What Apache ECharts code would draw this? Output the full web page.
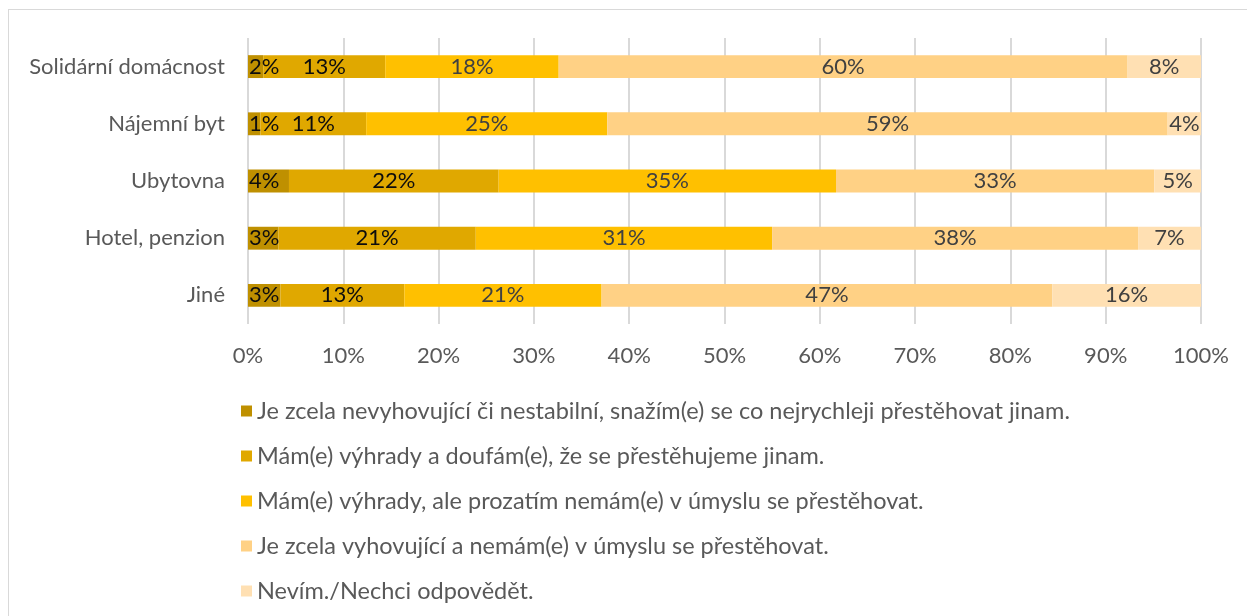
<!DOCTYPE html>
<html>
<head>
<meta charset="utf-8">
<script src="https://cdn.jsdelivr.net/npm/echarts@6/dist/echarts.min.js"></script>
<style>
  html, body { margin: 0; padding: 0; background: #fff; overflow: hidden; }
  #frame { position: absolute; left: 8px; top: 9px; width: 1260px; height: 640px; border: 1px solid #d9d9d9; box-sizing: border-box; }
  #chart { position: absolute; left: 0; top: 0; width: 1247px; height: 616px; }
</style>
</head>
<body>
<div id="frame"></div>
<div id="chart"></div>
<script>
const categories = ['Solidární domácnost', 'Nájemní byt', 'Ubytovna', 'Hotel, penzion', 'Jiné']
const seriesNames = [
  'Je zcela nevyhovující či nestabilní, snažím(e) se co nejrychleji přestěhovat jinam.',
  'Mám(e) výhrady a doufám(e), že se přestěhujeme jinam.',
  'Mám(e) výhrady, ale prozatím nemám(e) v úmyslu se přestěhovat.',
  'Je zcela vyhovující a nemám(e) v úmyslu se přestěhovat.',
  'Nevím./Nechci odpovědět.'
]
// percentages per category, same order as categories
const nestabilni = [1.6, 1.3, 4.3, 3.2, 3.4]
const vyhradyJinam = [12.8, 11.1, 22.0, 20.7, 13.0]
const vyhradyZustat = [18.2, 25.3, 35.4, 31.1, 20.7]
const vyhovujici = [59.7, 58.8, 33.4, 38.4, 47.3]
const nevim = [7.7, 3.5, 4.9, 6.6, 15.6]
const xTicks = [0, 10, 20, 30, 40, 50, 60, 70, 80, 90, 100]

const colors = ['#bf9000', '#e0a800', '#ffc000', '#ffd185', '#ffe0b3']
const labelColors = ['#0d0d0d', '#0d0d0d', '#404040', '#404040', '#404040']
const values = [nestabilni, vyhradyJinam, vyhradyZustat, vyhovujici, nevim]
const FONT = 'Lato, "Open Sans", sans-serif'

const chart = echarts.init(document.getElementById('chart'))

chart.setOption({
  animation: false,
  textStyle: { fontFamily: FONT },
  grid: { left: 248, right: 46, top: 38, bottom: 292 },
  xAxis: {
    type: 'value',
    min: xTicks[0],
    max: xTicks[xTicks.length - 1],
    interval: 10,
    axisLine: { show: false },
    axisTick: { show: false },
    splitLine: { lineStyle: { color: '#d9d9d9', width: 2 } },
    axisLabel: { color: '#595959', fontSize: 22, margin: 21, formatter: v => v + '%' }
  },
  yAxis: {
    type: 'category',
    data: categories,
    inverse: true,
    axisLine: { show: false },
    axisTick: { show: false },
    axisLabel: { color: '#595959', fontSize: 22, margin: 23 }
  },
  legend: {
    orient: 'vertical',
    left: 236,
    top: 394,
    itemWidth: 11,
    itemHeight: 11,
    itemGap: 21,
    icon: 'rect',
    textStyle: { color: '#595959', fontSize: 23.5, lineHeight: 24 },
    data: seriesNames
  },
  series: seriesNames.map((name, i) => ({
    name,
    type: 'bar',
    stack: 'total',
    barCategoryGap: '60%',
    itemStyle: { color: colors[i] },
    label: {
      show: true,
      // the thin first segment: labels start at the axis like in the original
      position: i === 0 ? 'insideLeft' : 'inside',
      distance: 1,
      color: labelColors[i],
      fontSize: 22,
      formatter: p => Math.round(p.value) + '%'
    },
    data: values[i]
  }))
})
</script>
</body>
</html>
